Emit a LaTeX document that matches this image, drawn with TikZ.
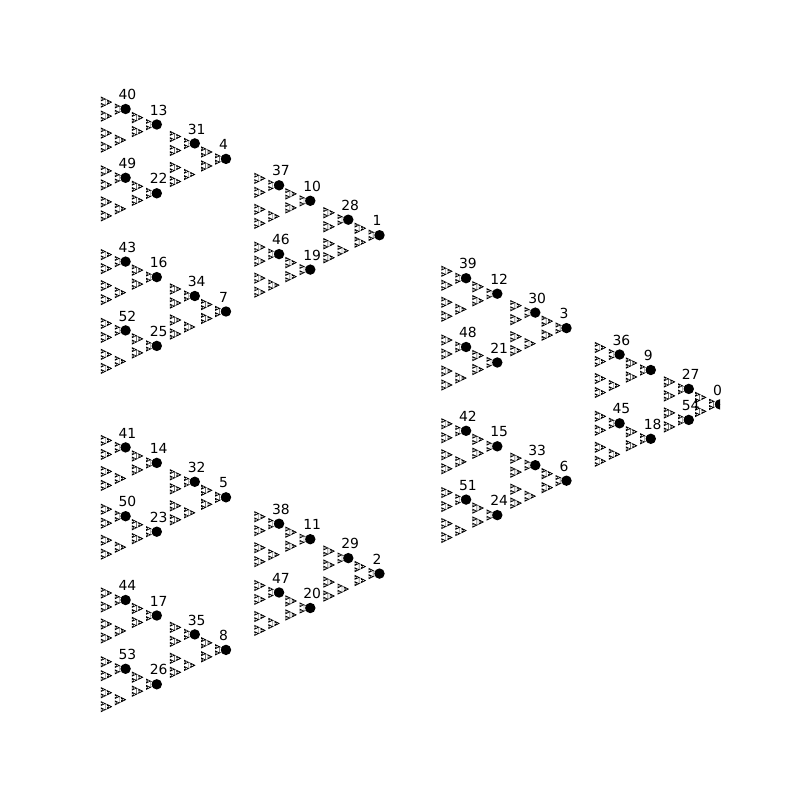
\documentclass[tikz,border=0pt]{standalone}
\usepackage{fontspec}
\setmainfont{DejaVu Sans}
\newcommand{\qq}{0.4508}
\newcommand{\dustlo}{5}
\newcommand{\dustwalk}[4]{%
  \ifnum#1<\dustlo\relax\else
    \pgfmathsetmacro{\ax}{#2-#4}%
    \pgfmathsetmacro{\ayu}{#3-0.4968*#4}%
    \pgfmathsetmacro{\ayd}{#3+0.4968*#4}%
    \pgfpathmoveto{\pgfqpoint{#2pt}{-#3pt}}%
    \pgfpathlineto{\pgfqpoint{\ax pt}{-\ayu pt}}%
    \pgfpathlineto{\pgfqpoint{\ax pt}{-\ayd pt}}%
    \pgfpathclose
  \fi
  \ifnum#1<\dusthi\relax
    \pgfmathsetmacro{\nx}{#4*\qq}%
    \pgfmathsetmacro{\ax}{#2-#4}%
    \pgfmathsetmacro{\ayu}{#3-0.4968*#4}%
    \pgfmathsetmacro{\ayd}{#3+0.4968*#4}%
    \pgfmathtruncatemacro{\nl}{#1+1}%
    \edef\doit{%
      \noexpand\dustwalk{\nl}{#2}{#3}{\nx}%
      \noexpand\dustwalk{\nl}{\ax}{\ayu}{\nx}%
      \noexpand\dustwalk{\nl}{\ax}{\ayd}{\nx}}%
    \doit
  \fi}
\newcommand{\dusthi}{5}
\tikzset{dotmark/.style={circle,fill=black,inner sep=0pt,minimum size=10.4pt},
         numlabel/.style={anchor=base west,inner sep=0pt,font=\fontsize{13.9}{14}\selectfont}}
\begin{document}
\begin{tikzpicture}[x=1pt,y=-1pt]
\useasboundingbox (0,0) rectangle (800,800);
\fill[white] (0,0) rectangle (800,800);
\begin{scope}
\clip (100,96) rectangle (720,712);
\begin{scope}[line width=0.35pt,black!85]
\renewcommand{\dustlo}{5}\renewcommand{\dusthi}{5}
\dustwalk{0}{720}{404.4}{340.5}
\pgfusepath{stroke}
\end{scope}
\begin{scope}[line width=0.55pt,black]
\renewcommand{\dustlo}{6}\renewcommand{\dusthi}{7}
\dustwalk{0}{720}{404.4}{340.5}
\pgfusepath{stroke}
\end{scope}
\foreach \n in {0,...,54}{
  \pgfmathtruncatemacro{\da}{mod(\n,3)}
  \pgfmathtruncatemacro{\db}{mod(int(\n/3),3)}
  \pgfmathtruncatemacro{\dc}{mod(int(\n/9),3)}
  \pgfmathtruncatemacro{\dd}{mod(int(\n/27),3)}
  \pgfmathsetmacro{\px}{720-340.5*(\da>0)-153.5*(\db>0)-69.2*(\dc>0)-31.2*(\dd>0)}
  \pgfmathsetmacro{\py}{404.4+169.2*((\da==2)-(\da==1))+76.3*((\db==2)-(\db==1))+34.4*((\dc==2)-(\dc==1))+15.5*((\dd==2)-(\dd==1))}
  \node[dotmark] (n\n) at (\px,\py) {};
}
\end{scope}
\foreach \n in {0,...,54}{
  \path (n\n.center) ++(-7.2,-9.4) node[numlabel] (t\n) {\n};
}
\end{tikzpicture}
\end{document}
